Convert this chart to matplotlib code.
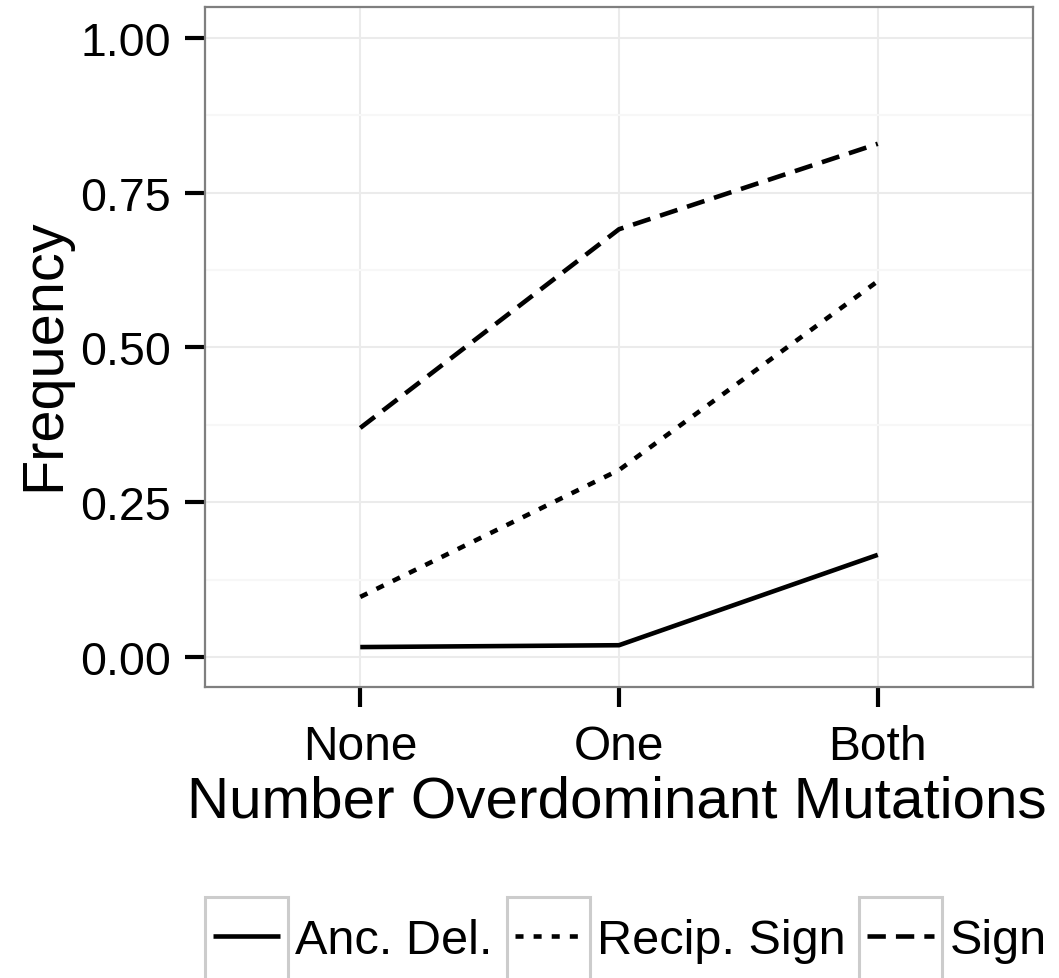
import matplotlib
matplotlib.use("Agg")
import matplotlib.pyplot as plt
from matplotlib.patches import Rectangle
import numpy as np

categories = ["None", "One", "Both"]
anc_del = [0.016, 0.019, 0.165]
recip_sign = [0.097, 0.302, 0.607]
sign = [0.370, 0.691, 0.829]
series_names = ["Anc. Del.", "Recip. Sign", "Sign"]
yticks = [0.00, 0.25, 0.50, 0.75, 1.00]
ytick_labels = ["0.00", "0.25", "0.50", "0.75", "1.00"]

plt.rcParams['font.family'] = ['Liberation Sans', 'DejaVu Sans']

W, H = 1059, 979
fig = plt.figure(figsize=(W / 100, H / 100), dpi=100)
ax = fig.add_axes([205 / W, 1 - 688 / H, (1033 - 205) / W, (688 - 8) / H])

x = np.arange(len(categories))
lw = 3.3
styles = ['-', (0, (1.75, 2.2)), (0, (4.0, 2.2))]
for vals, name, ls in zip([anc_del, recip_sign, sign], series_names, styles):
    ax.plot(x, vals, color='black', lw=lw, linestyle=ls, label=name,
            solid_capstyle='butt', dash_capstyle='butt', zorder=3)

ax.set_xlim(-0.6, 2.6)
ax.set_ylim(-0.0485, 1.050)
ax.set_xticks(x)
ax.set_xticklabels(categories)
ax.set_yticks(yticks)
ax.set_yticklabels(ytick_labels)
ax.set_yticks([0.125, 0.375, 0.625, 0.875], minor=True)

ax.grid(True, which='major', color='#ebebeb', lw=1.5, zorder=0)
ax.grid(True, which='minor', axis='y', color='#f7f7f7', lw=1.5, zorder=0)
ax.set_axisbelow(True)
for sp in ax.spines.values():
    sp.set_color('#7f7f7f')
    sp.set_linewidth(1.6)

ax.tick_params(axis='both', which='major', direction='out', length=14.5, width=3.0,
               color='black', labelcolor='black')
ax.tick_params(axis='y', which='major', labelsize=33.5, pad=10)
ax.tick_params(axis='x', which='major', labelsize=34.5, pad=12)
ax.tick_params(axis='both', which='minor', length=0)

ax.set_xlabel("Number Overdominant Mutations", fontsize=42)
ax.xaxis.set_label_coords(0.4976, (688 - 818) / 680)
ax.xaxis.label.set_va('baseline')
ax.set_ylabel("Frequency", fontsize=41.5)
ax.yaxis.set_label_coords((71 - 205) / 828, 0.49)

handles, labels = ax.get_legend_handles_labels()
leg = fig.legend(handles, labels, loc='center', ncol=3,
                 bbox_to_anchor=(630 / W, 1 - 942 / H), frameon=False,
                 fontsize=35, handlelength=1.37, handletextpad=0.32,
                 columnspacing=0.45, borderpad=0, borderaxespad=0)

fig.canvas.draw()
renderer = fig.canvas.get_renderer()
for lh in leg.legend_handles:
    bb = lh.get_window_extent(renderer)
    cx = (bb.x0 + bb.x1) / 2
    side = 83
    rx0 = cx - side / 2
    ry0 = (H - 898) - side
    rect = Rectangle((rx0 / W, ry0 / H), side / W, side / H,
                     transform=fig.transFigure, fill=False,
                     edgecolor='#cccccc', lw=2.2, zorder=1)
    fig.patches.append(rect)

fig.savefig("out.png", dpi=100)
